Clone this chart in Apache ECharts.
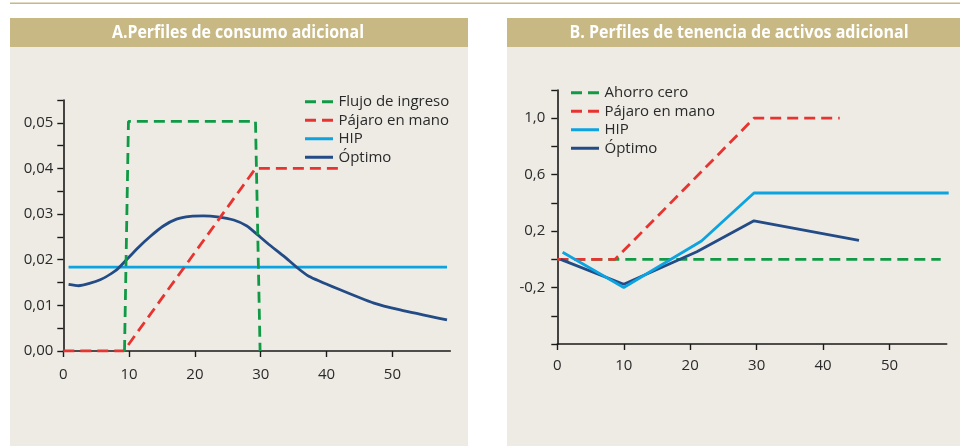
<!DOCTYPE html>
<html><head><meta charset="utf-8">
<script src="https://cdn.jsdelivr.net/npm/echarts@6/dist/echarts.min.js"></script>
<style>html,body{margin:0;padding:0;background:#fff}#c{width:960px;height:446px}</style>
</head><body><div id="c"></div>
<script>
// ---- Text ----
const titleA = 'A.Perfiles de consumo adicional';
const titleB = 'B. Perfiles de tenencia de activos adicional';
const legendA = ['Flujo de ingreso', 'Pájaro en mano', 'HIP', 'Óptimo'];
const legendB = ['Ahorro cero', 'Pájaro en mano', 'HIP', 'Óptimo'];

// ---- Tick labels ----
const xTickLabels = [0, 10, 20, 30, 40, 50];
const yTickLabelsA = [0, 0.01, 0.02, 0.03, 0.04, 0.05];
const yTickLabelsB = [-0.2, 0.2, 0.6, 1.0];

// ---- Panel A: consumo adicional ----
const aFlujoX = [9.3, 9.9, 29.2, 29.9];
const aFlujoY = [0, 0.0503, 0.0503, 0];
const aPajaroX = [0, 9.2, 29.2, 41.8];
const aPajaroY = [0, 0, 0.04, 0.04];
const aHipX = [0.8, 58.3];
const aHipY = [0.0184, 0.0184];
const aOptX = [0.8, 2.3, 5.6, 8.1, 9.6, 11.4, 13.2, 15.2, 17.2, 19.3, 21.3, 23.4, 25.9, 27.9, 29.1, 31.2, 33.5, 35.5, 37.3, 41.6, 47.2, 51.2, 58.3];
const aOptY = [0.0146, 0.0143, 0.0156, 0.0178, 0.0200, 0.0227, 0.0251, 0.0274, 0.0289, 0.0295, 0.0296, 0.0294, 0.0287, 0.0274, 0.0260, 0.0234, 0.0208, 0.0183, 0.0164, 0.0137, 0.0105, 0.0090, 0.0068];

// ---- Panel B: tenencia de activos adicional ----
const bCeroX = [0, 57.7];
const bCeroY = [0, 0];
const bPajaroX = [0, 8.7, 29.6, 42.5];
const bPajaroY = [0, 0, 1.0, 1.0];
const bHipX = [0.8, 10.0, 21.7, 29.6, 58.9];
const bHipY = [0.05, -0.2, 0.13, 0.47, 0.47];
const bOptX = [0.5, 10.0, 21.0, 29.6, 45.4];
const bOptY = [0, -0.177, 0.054, 0.273, 0.134];

const pairs = (xs, ys) => xs.map((x, i) => [x, ys[i]]);

const GREEN = '#119a45', RED = '#e83430', LBLUE = '#0ba3e0', DBLUE = '#234b86';
const TAN = '#c8b883', BG = '#eeebe5', TXT = '#2a2a2a';
const FONT = "'Open Sans', 'Noto Sans', sans-serif";
const LW = 2.8;
const DASH = [11, 6];

const ICON_DASH = 'path://M0,0h11v3h-11zM17,0h11v3h-11z';
const ICON_SOLID = 'path://M0,0h28v3h-28z';
const legendIcon = {
  'Flujo de ingreso': ICON_DASH, 'Ahorro cero': ICON_DASH, 'Pájaro en mano': ICON_DASH,
  'HIP': ICON_SOLID, 'Óptimo': ICON_SOLID
};

const fmtComma = d => v => v.toFixed(d).replace('.', ',');

function xAxisCfg(gi, max, margin) {
  return {
    type: 'value', gridIndex: gi, min: 0, max: max,
    axisLine: { show: true, onZero: false, lineStyle: { color: '#1a1a1a', width: 1.6 } },
    axisTick: { show: true, length: 6, customValues: xTickLabels, lineStyle: { color: '#1a1a1a', width: 1.4 } },
    axisLabel: { customValues: xTickLabels, margin: margin, color: TXT, fontSize: 15, fontFamily: FONT, formatter: v => String(v) },
    splitLine: { show: false }
  };
}

function legendCfg(names, left, top) {
  return {
    data: names.map(n => ({ name: n, icon: legendIcon[n] })),
    orient: 'vertical', left: left, top: top, padding: 0, itemGap: 0,
    itemWidth: 29, itemHeight: 3, selectedMode: false,
    textStyle: { color: TXT, fontSize: 15, fontFamily: FONT, lineHeight: 18.5 }
  };
}

const chart = echarts.init(document.getElementById('c'), null, { renderer: 'canvas' });
const option = {
  backgroundColor: '#ffffff',
  animation: false,
  graphic: [
    { type: 'rect', shape: { x: 10, y: 2.5, width: 950, height: 1.5 }, style: { fill: TAN }, z: 0 },
    { type: 'rect', shape: { x: 10, y: 18, width: 458, height: 428 }, style: { fill: BG }, z: 0 },
    { type: 'rect', shape: { x: 507, y: 18, width: 453, height: 428 }, style: { fill: BG }, z: 0 },
    { type: 'rect', shape: { x: 10, y: 18, width: 458, height: 29 }, style: { fill: TAN }, z: 1 },
    { type: 'rect', shape: { x: 507, y: 18, width: 453, height: 29 }, style: { fill: TAN }, z: 1 },
    { type: 'text', x: 238, y: 33, scaleX: 0.885, z: 2,
      style: { text: titleA, fill: '#ffffff', font: "bold 18px 'Open Sans', sans-serif", align: 'center', verticalAlign: 'middle' } },
    { type: 'text', x: 739, y: 33, scaleX: 0.89, z: 2,
      style: { text: titleB, fill: '#ffffff', font: "bold 18px 'Open Sans', sans-serif", align: 'center', verticalAlign: 'middle' } }
  ],
  legend: [ legendCfg(legendA, 305, 92.5), legendCfg(legendB, 571, 83.5) ],
  grid: [
    { left: 63.3, top: 100, width: 387, height: 251, containLabel: false },
    { left: 557.3, top: 90, width: 389.4, height: 254, containLabel: false }
  ],
  xAxis: [ xAxisCfg(0, 58.8, 16), xAxisCfg(1, 58.6, 14.5) ],
  yAxis: [
    { type: 'value', gridIndex: 0, min: 0, max: 0.055, interval: 0.005,
      axisLine: { show: true, lineStyle: { color: '#1a1a1a', width: 1.6 } },
      axisTick: { show: true, length: 6, lineStyle: { color: '#1a1a1a', width: 1.4 } },
      axisLabel: { customValues: yTickLabelsA, margin: 10, color: TXT, fontSize: 15, fontFamily: FONT, formatter: fmtComma(2) },
      splitLine: { show: false } },
    { type: 'value', gridIndex: 1, min: -0.6, max: 1.2, interval: 0.2,
      axisLine: { show: true, lineStyle: { color: '#1a1a1a', width: 1.6 } },
      axisTick: { show: true, length: 6, lineStyle: { color: '#1a1a1a', width: 1.4 } },
      axisLabel: { customValues: yTickLabelsB, margin: 12, color: TXT, fontSize: 15, fontFamily: FONT, formatter: fmtComma(1) },
      splitLine: { show: false } }
  ],
  series: [
    { name: 'HIP', type: 'line', xAxisIndex: 0, yAxisIndex: 0, data: pairs(aHipX, aHipY), showSymbol: false, symbol: 'none',
      lineStyle: { color: LBLUE, width: LW }, itemStyle: { color: LBLUE }, z: 3 },
    { name: 'Óptimo', type: 'line', xAxisIndex: 0, yAxisIndex: 0, data: pairs(aOptX, aOptY), showSymbol: false, symbol: 'none', smooth: 0.2,
      lineStyle: { color: DBLUE, width: LW }, itemStyle: { color: DBLUE }, z: 4 },
    { name: 'Pájaro en mano', type: 'line', xAxisIndex: 0, yAxisIndex: 0, data: pairs(aPajaroX, aPajaroY), showSymbol: false, symbol: 'none',
      lineStyle: { color: RED, width: LW, type: DASH }, itemStyle: { color: RED }, z: 5 },
    { name: 'Flujo de ingreso', type: 'line', xAxisIndex: 0, yAxisIndex: 0, data: pairs(aFlujoX, aFlujoY), showSymbol: false, symbol: 'none',
      lineStyle: { color: GREEN, width: LW, type: DASH }, itemStyle: { color: GREEN }, z: 6 },

    { name: 'Ahorro cero', type: 'line', xAxisIndex: 1, yAxisIndex: 1, data: pairs(bCeroX, bCeroY), showSymbol: false, symbol: 'none',
      lineStyle: { color: GREEN, width: LW, type: DASH }, itemStyle: { color: GREEN }, z: 3 },
    { name: 'Pájaro en mano', type: 'line', xAxisIndex: 1, yAxisIndex: 1, data: pairs(bPajaroX, bPajaroY), showSymbol: false, symbol: 'none',
      lineStyle: { color: RED, width: LW, type: DASH }, itemStyle: { color: RED }, z: 4 },
    { name: 'Óptimo', type: 'line', xAxisIndex: 1, yAxisIndex: 1, data: pairs(bOptX, bOptY), showSymbol: false, symbol: 'none',
      lineStyle: { color: DBLUE, width: LW }, itemStyle: { color: DBLUE }, z: 5 },
    { name: 'HIP', type: 'line', xAxisIndex: 1, yAxisIndex: 1, data: pairs(bHipX, bHipY), showSymbol: false, symbol: 'none',
      lineStyle: { color: LBLUE, width: LW }, itemStyle: { color: LBLUE }, z: 6 }
  ]
};
chart.setOption(option);
</script>
</body></html>
